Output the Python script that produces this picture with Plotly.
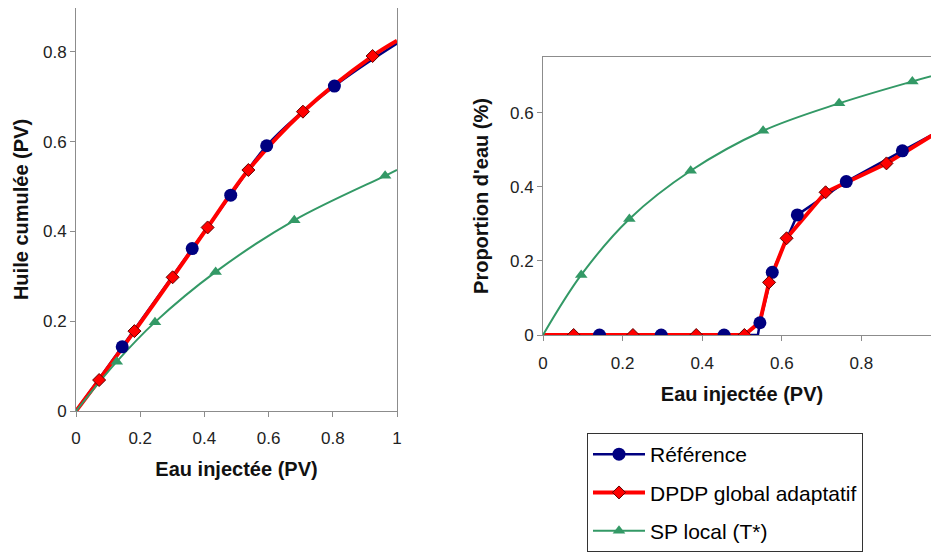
import plotly.graph_objects as go

# ---------------- data ----------------
# Left panel: cumulative oil vs injected water
ref_left_x = [0.0, 0.144, 0.362, 0.482, 0.594, 0.805, 1.0]
ref_left_y = [0.0, 0.143, 0.362, 0.481, 0.591, 0.724, 0.819]

dpdp_left_x = [0.0, 0.072, 0.182, 0.301, 0.410, 0.537, 0.707, 0.924, 1.0]
dpdp_left_y = [0.0, 0.069, 0.178, 0.298, 0.409, 0.537, 0.667, 0.791, 0.825]

sp_left_x = [0.0, 0.127, 0.246, 0.435, 0.680, 0.963, 1.0]
sp_left_y = [0.0, 0.110, 0.198, 0.310, 0.425, 0.524, 0.537]

# Right panel: water cut vs injected water
ref_right_x = [0.0, 0.142, 0.297, 0.455, 0.540, 0.545, 0.576, 0.639, 0.762, 0.903, 1.0]
ref_right_y = [0.0, 0.0, 0.0, 0.0, 0.0, 0.033, 0.169, 0.324, 0.414, 0.497, 0.553]
ref_right_mx = [0.142, 0.297, 0.455, 0.545, 0.576, 0.639, 0.762, 0.903]
ref_right_my = [0.0, 0.0, 0.0, 0.033, 0.169, 0.324, 0.414, 0.497]

dpdp_right_x = [0.0, 0.077, 0.226, 0.385, 0.506, 0.545, 0.568, 0.612, 0.710, 0.863, 1.0]
dpdp_right_y = [0.0, 0.0, 0.0, 0.0, 0.0, 0.035, 0.142, 0.261, 0.385, 0.463, 0.553]
dpdp_right_mx = [0.077, 0.226, 0.385, 0.506, 0.568, 0.612, 0.710, 0.863]
dpdp_right_my = [0.0, 0.0, 0.0, 0.0, 0.142, 0.261, 0.385, 0.463]

sp_right_x = [0.0, 0.096, 0.217, 0.371, 0.553, 0.744, 0.928, 1.0]
sp_right_y = [0.0, 0.162, 0.313, 0.443, 0.551, 0.625, 0.684, 0.705]

series_names = ["Référence", "DPDP global adaptatif", "SP local (T*)"]
x_ticks = [0, 0.2, 0.4, 0.6, 0.8, 1]
y_ticks_left = [0, 0.2, 0.4, 0.6, 0.8]
y_ticks_right = [0, 0.2, 0.4, 0.6]

# ---------------- styles ----------------
BLUE = "#000080"
RED = "#FF0000"
GREEN = "#339966"
FONT = "Liberation Sans, Arial, sans-serif"

blue_line = dict(color=BLUE, width=2.5)
red_line = dict(color=RED, width=4)
green_line = dict(color=GREEN, width=2)
blue_marker = dict(symbol="circle", size=13, color=BLUE)
red_marker = dict(symbol="diamond", size=10, color=RED, line=dict(color="#600000", width=1))
green_marker = dict(symbol="triangle-up", size=11, color=GREEN)

fig = go.Figure()

# ---- lines first (Excel draws all lines, then markers) ----
fig.add_trace(go.Scatter(x=ref_left_x, y=ref_left_y, mode="lines", line=dict(**blue_line, shape="spline"),
                         xaxis="x", yaxis="y", showlegend=False, hoverinfo="skip"))
fig.add_trace(go.Scatter(x=dpdp_left_x, y=dpdp_left_y, mode="lines", line=dict(**red_line, shape="spline"),
                         xaxis="x", yaxis="y", showlegend=False, hoverinfo="skip"))
fig.add_trace(go.Scatter(x=sp_left_x, y=sp_left_y, mode="lines", line=dict(**green_line, shape="spline"),
                         xaxis="x", yaxis="y", showlegend=False, hoverinfo="skip"))

fig.add_trace(go.Scatter(x=ref_right_x, y=ref_right_y, mode="lines", line=blue_line,
                         xaxis="x2", yaxis="y2", showlegend=False, hoverinfo="skip"))
fig.add_trace(go.Scatter(x=dpdp_right_x, y=dpdp_right_y, mode="lines", line=red_line,
                         xaxis="x2", yaxis="y2", showlegend=False, hoverinfo="skip"))
fig.add_trace(go.Scatter(x=sp_right_x, y=sp_right_y, mode="lines", line=dict(**green_line, shape="spline"),
                         xaxis="x2", yaxis="y2", showlegend=False, hoverinfo="skip"))

# ---- markers ----
fig.add_trace(go.Scatter(x=ref_left_x[1:-1], y=ref_left_y[1:-1], mode="markers", marker=blue_marker,
                         xaxis="x", yaxis="y", showlegend=False))
fig.add_trace(go.Scatter(x=dpdp_left_x[1:-1], y=dpdp_left_y[1:-1], mode="markers", marker=red_marker,
                         xaxis="x", yaxis="y", showlegend=False))
fig.add_trace(go.Scatter(x=sp_left_x[1:-1], y=sp_left_y[1:-1], mode="markers", marker=green_marker,
                         xaxis="x", yaxis="y", showlegend=False))

fig.add_trace(go.Scatter(x=ref_right_mx, y=ref_right_my, mode="markers", marker=blue_marker,
                         xaxis="x2", yaxis="y2", showlegend=False))
fig.add_trace(go.Scatter(x=dpdp_right_mx, y=dpdp_right_my, mode="markers", marker=red_marker,
                         xaxis="x2", yaxis="y2", showlegend=False))
fig.add_trace(go.Scatter(x=sp_right_x[1:-1], y=sp_right_y[1:-1], mode="markers", marker=green_marker,
                         xaxis="x2", yaxis="y2", showlegend=False))

# ---- legend entries ----
for name, ln, mk, grp in zip(series_names, [blue_line, red_line, green_line],
                             [blue_marker, red_marker, green_marker], ["a", "b", "c"]):
    fig.add_trace(go.Scatter(x=[None], y=[None], mode="lines+markers", name=name, line=ln, marker=mk,
                             legendgroup=grp, xaxis="x2", yaxis="y2"))

W, H = 939, 552
OFF = 8  # default page body margin offsets the figure by 8 px


def dx(px):
    return (px - OFF) / W


def dy(py):
    return (H - (py - OFF)) / H


axis_common = dict(
    showgrid=False, zeroline=False, showline=True, linecolor="#8c8c8c", linewidth=1,
    ticks="outside", ticklen=5, tickcolor="#8c8c8c", tickwidth=1,
    tickfont=dict(family=FONT, size=17, color="#222222"),
    title_font=dict(family=FONT, size=20, color="#111111"),
    automargin=False,
)

fig.update_layout(
    width=W, height=H, autosize=False,
    margin=dict(l=0, r=0, t=0, b=0),
    paper_bgcolor="white", plot_bgcolor="white",
    xaxis=dict(**axis_common, domain=[dx(76), dx(397)], range=[0, 1], tickvals=x_ticks,
               mirror=True, anchor="y", ticklabelstandoff=7,
               title=dict(text="<b>Eau injectée (PV)</b>", standoff=14)),
    yaxis=dict(**axis_common, domain=[dy(411), 1.0], range=[0, 0.898], tickvals=y_ticks_left,
               mirror=True, anchor="x",
               title=dict(text="<b>Huile cumulée (PV)</b>", standoff=8)),
    xaxis2=dict(**axis_common, domain=[dx(543), dx(941)], range=[0, 1], tickvals=x_ticks,
                mirror=True, anchor="y2", ticklabelstandoff=8,
                title=dict(text="<b>Eau injectée (PV)</b>", standoff=14)),
    yaxis2=dict(**axis_common, domain=[dy(335), dy(57)], range=[0, 0.75], tickvals=y_ticks_right,
                mirror=False, anchor="x2",
                title=dict(text="<b>Proportion d'eau (%)</b>", standoff=15)),
    legend=dict(
        x=dx(587), y=dy(433), xanchor="left", yanchor="top",
        bgcolor="white", bordercolor="#333333", borderwidth=1,
        font=dict(family=FONT, size=21, color="#000000"),
        traceorder="grouped", tracegroupgap=8, itemwidth=52,
    ),
    showlegend=True,
)

fig.write_html("out.html")
